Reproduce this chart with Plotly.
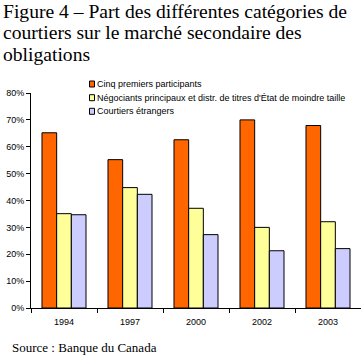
import plotly.graph_objects as go

years = ["1994", "1997", "2000", "2002", "2003"]
series_names = [
    "Cinq premiers participants",
    "Négociants principaux et distr. de titres d'État de moindre taille",
    "Courtiers étrangers",
]
cinq = [0.652, 0.552, 0.626, 0.700, 0.679]
negociants = [0.351, 0.448, 0.371, 0.300, 0.321]
courtiers = [0.347, 0.423, 0.273, 0.213, 0.221]
colors = ["#FF6600", "#FFFF99", "#CCCCFF"]
title_lines = [
    "Figure 4 – Part des différentes catégories de",
    "courtiers sur le marché secondaire des",
    "obligations",
]
source_text = "Source : Banque du Canada"

W, H = 361, 356
L, R, T, B = 31, 0, 93, 48
PW, PH = W - L - R, H - T - B

def xp(px):
    return (px - L) / PW

def yp(py):
    return (H - B - py) / PH

fig = go.Figure()
for name, vals, col in zip(series_names, [cinq, negociants, courtiers], colors):
    fig.add_trace(go.Bar(
        x=years, y=vals, name=name, showlegend=False,
        marker=dict(color=col, line=dict(color="black", width=1)),
    ))

sans = "Liberation Sans, Arial, sans-serif"
serif = "Liberation Serif, Times New Roman, serif"

annotations = []
title_y = [11, 33, 54]
for line, y in zip(title_lines, title_y):
    annotations.append(dict(
        text=line, xref="paper", yref="paper", x=xp(1), y=yp(y),
        xanchor="left", yanchor="middle", showarrow=False,
        font=dict(family=serif, size=19.6, color="black"),
    ))
annotations.append(dict(
    text=source_text, xref="paper", yref="paper", x=xp(10), y=yp(347),
    xanchor="left", yanchor="middle", showarrow=False,
    font=dict(family=serif, size=13, color="black"),
))

shapes = []
row_y = [84, 97.7, 111.3]
for name, col, ry in zip(series_names, colors, row_y):
    shapes.append(dict(
        type="rect", xref="paper", yref="paper",
        x0=xp(89.5), x1=xp(94.5), y0=yp(ry - 3), y1=yp(ry + 3),
        fillcolor=col, line=dict(color="black", width=1),
    ))
    annotations.append(dict(
        text=name, xref="paper", yref="paper", x=xp(95), y=yp(ry),
        xanchor="left", yanchor="middle", showarrow=False,
        font=dict(family=sans, size=9, color="black"),
    ))

fig.update_layout(
    width=W, height=H,
    margin=dict(l=L, r=R, t=T, b=B, pad=0),
    paper_bgcolor="white", plot_bgcolor="white",
    barmode="group", bargap=0.333, bargroupgap=0,
    annotations=annotations, shapes=shapes,
    xaxis=dict(
        type="category", showline=True, linecolor="black", linewidth=1,
        ticks="outside", ticklen=4, tickcolor="black", tickson="boundaries",
        showgrid=False, tickfont=dict(family=sans, size=9, color="black"),
        ticklabelstandoff=5,
    ),
    yaxis=dict(
        range=[0, 0.8], dtick=0.1, tickformat=".0%",
        showline=True, linecolor="black", linewidth=1,
        ticks="outside", ticklen=4, tickcolor="black",
        showgrid=False, zeroline=False,
        tickfont=dict(family=sans, size=9, color="black"),
    ),
)

fig.write_html(
    "out.html",
    config={"displayModeBar": False},
    post_script="document.body.style.margin='0';document.body.style.overflow='hidden';",
)
